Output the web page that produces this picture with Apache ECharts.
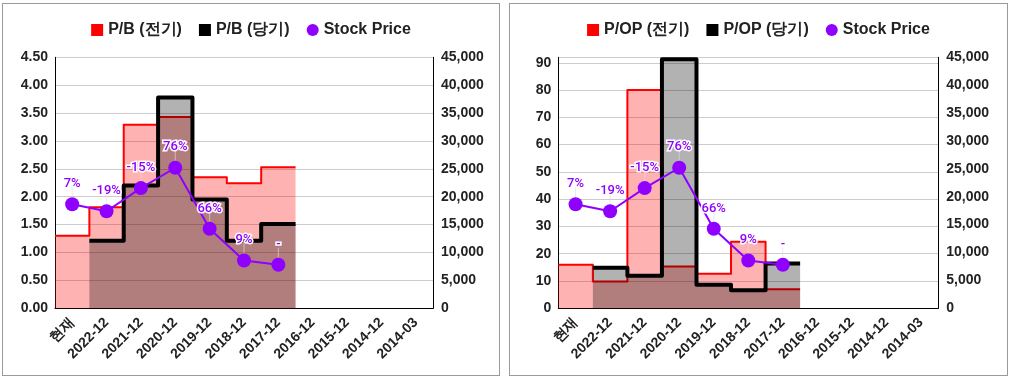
<!DOCTYPE html>
<html>
<head>
<meta charset="utf-8">
<script src="https://cdn.jsdelivr.net/npm/echarts@6/dist/echarts.min.js"></script>
<style>
  html, body { margin: 0; padding: 0; background: #fff; }
  .box { position: absolute; border: 1px solid #9a9a9a; box-sizing: content-box; }
  #c1 { left: 2px; top: 3px; width: 496px; height: 371px; }
  #c2 { left: 509px; top: 3px; width: 497px; height: 371px; }
</style>
</head>
<body>
<div id="c1" class="box"></div>
<div id="c2" class="box"></div>
<script>
const categories = ['현재', '2022-12', '2021-12', '2020-12', '2019-12', '2018-12', '2017-12', '2016-12', '2015-12', '2014-12', '2014-03'];
const pbPrev  = [1.30, 1.81, 3.29, 3.43, 2.35, 2.24, 2.53, null, null, null, null];
const pbCurr  = [null, 1.21, 2.20, 3.78, 1.95, 1.21, 1.51, null, null, null, null];
const popPrev = [16.0, 9.8, 80.0, 15.3, 12.7, 24.4, 7.0, null, null, null, null];
const popCurr = [null, 14.9, 11.9, 91.3, 8.6, 6.6, 16.4, null, null, null, null];
const price   = [18650, 17400, 21550, 25200, 14250, 8570, 7800, null, null, null, null];
const priceLabels = ['7%', '-19%', '-15%', '76%', '66%', '9%', '-', '', '', '', ''];
const priceTicks = [0, 5000, 10000, 15000, 20000, 25000, 30000, 35000, 40000, 45000];

const FONT = 'Arial, "Liberation Sans", sans-serif';
const PURPLE = '#8f00ff';

function stepPoints(vals) {
  const pts = [];
  vals.forEach((v, i) => {
    if (v === null || v === undefined) return;
    pts.push([i, v]);
    pts.push([i + 1, v]);
  });
  return pts;
}

function fmtThousands(v) {
  return String(v).replace(/\B(?=(\d{3})+(?!\d))/g, ',');
}

function makeOption(cfg) {
  return {
    animation: false,
    legend: {
      top: 13,
      left: 'center',
      itemWidth: 12,
      itemHeight: 12,
      itemGap: 17,
      textStyle: { fontFamily: FONT, fontSize: 16, fontWeight: 'bold', color: '#222' },
      data: [
        { name: cfg.prevName, icon: 'rect' },
        { name: cfg.currName, icon: 'rect' },
        { name: 'Stock Price', icon: 'circle' }
      ]
    },
    grid: { left: cfg.gridLeft, right: cfg.gridRight, top: 53.3, bottom: 66.7 },
    xAxis: [
      {
        type: 'category',
        data: categories,
        boundaryGap: true,
        axisLine: { lineStyle: { color: '#000', width: 1 } },
        axisTick: { show: false },
        axisLabel: { rotate: 45, interval: 0, margin: 12, fontFamily: FONT, fontSize: 14, fontWeight: 'bold', color: '#222' },
        splitLine: { show: false }
      },
      {
        type: 'value', min: 0, max: categories.length, show: false
      }
    ],
    yAxis: [
      {
        type: 'value',
        min: 0,
        max: cfg.leftMax,
        interval: cfg.leftInterval,
        position: 'left',
        axisLine: { show: true, lineStyle: { color: '#000', width: 1 } },
        axisTick: { show: false },
        axisLabel: {
          margin: 7, fontFamily: FONT, fontSize: 14, fontWeight: 'bold', color: '#222',
          formatter: cfg.leftFmt
        },
        splitLine: { show: true, lineStyle: { color: '#cccccc', width: 1 } }
      },
      {
        type: 'value',
        min: 0,
        max: priceTicks[priceTicks.length - 1],
        interval: priceTicks[1] - priceTicks[0],
        position: 'right',
        axisLine: { show: true, lineStyle: { color: '#000', width: 1 } },
        axisTick: { show: false },
        axisLabel: {
          margin: 8, fontFamily: FONT, fontSize: 14, fontWeight: 'bold', color: '#222',
          formatter: fmtThousands
        },
        splitLine: { show: false }
      }
    ],
    series: [
      {
        name: cfg.prevName,
        type: 'line',
        xAxisIndex: 1, yAxisIndex: 0,
        data: stepPoints(cfg.prev),
        symbol: 'none',
        z: 2,
        itemStyle: { color: '#ff0000' },
        lineStyle: { color: '#ff0000', width: 2, join: 'round' },
        areaStyle: { color: '#ff0000', opacity: 0.3, origin: 'start' }
      },
      {
        name: cfg.currName,
        type: 'line',
        xAxisIndex: 1, yAxisIndex: 0,
        data: stepPoints(cfg.curr),
        symbol: 'none',
        z: 3,
        itemStyle: { color: '#000' },
        lineStyle: { color: '#000', width: 4, join: 'round' },
        areaStyle: { color: '#000000', opacity: 0.3, origin: 'start' }
      },
      {
        name: 'stem',
        type: 'scatter',
        xAxisIndex: 0, yAxisIndex: 1,
        data: price,
        symbol: 'rect',
        symbolSize: [1, 10],
        symbolOffset: [0, -12],
        itemStyle: { color: 'rgba(220,220,220,0.8)' },
        silent: true,
        z: 4
      },
      {
        name: 'Stock Price',
        type: 'line',
        xAxisIndex: 0, yAxisIndex: 1,
        data: price,
        symbol: 'circle',
        symbolSize: 14,
        showAllSymbol: true,
        z: 5,
        itemStyle: { color: PURPLE },
        lineStyle: { color: PURPLE, width: 2 },
        label: {
          show: true,
          position: 'top',
          distance: 7,
          formatter: p => priceLabels[p.dataIndex],
          fontFamily: 'Roboto, "Noto Sans", sans-serif',
          fontSize: 13,
          fontWeight: 500,
          color: PURPLE,
          textBorderColor: '#fff',
          textBorderWidth: 3
        }
      }
    ]
  };
}

const chart1 = echarts.init(document.getElementById('c1'), null, { renderer: 'canvas' });
chart1.setOption(makeOption({
  prevName: 'P/B (전기)', currName: 'P/B (당기)',
  prev: pbPrev, curr: pbCurr,
  leftMax: 4.5, leftInterval: 0.5,
  leftFmt: v => v.toFixed(2),
  gridLeft: 52, gridRight: 66
}));

const chart2 = echarts.init(document.getElementById('c2'), null, { renderer: 'canvas' });
chart2.setOption(makeOption({
  prevName: 'P/OP (전기)', currName: 'P/OP (당기)',
  prev: popPrev, curr: popCurr,
  leftMax: 92, leftInterval: 10,
  leftFmt: v => (v % 10 === 0 ? String(v) : ''),
  gridLeft: 48.3, gridRight: 68.7
}));
</script>
</body>
</html>
